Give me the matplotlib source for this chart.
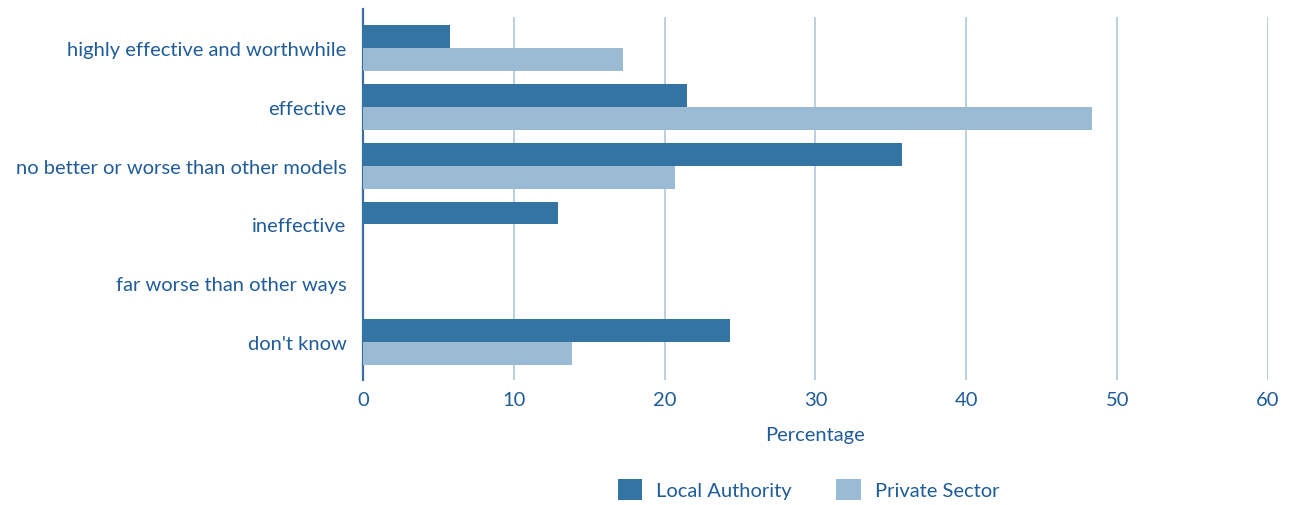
import numpy as np
import matplotlib
matplotlib.use('Agg')
from matplotlib import pyplot as plt

plt.rcParams['font.family'] = ['Lato', 'DejaVu Sans']

categories = [
    'highly effective and worthwhile',
    'effective',
    'no better or worse than other models',
    'ineffective',
    'far worse than other ways',
    "don't know",
]
local_authority = [5.8, 21.45, 35.75, 12.9, 0, 24.3]
private_sector = [17.25, 48.3, 20.7, 0, 0, 13.85]
x_ticks = [0, 10, 20, 30, 40, 50, 60]

dark_blue = '#3474a5'
light_blue = '#9bbad4'
text_blue = '#1f5c99'
grid_col = '#bccfe0'
fs = 14.5

fig = plt.figure(figsize=(12.98, 5.06), dpi=100)
ax = fig.add_axes([363 / 1298, 1 - 381 / 506, (1268 - 363) / 1298, 371 / 506])

y = np.arange(len(categories))
h = 0.39
ax.barh(y - h / 2, local_authority, height=h, color=dark_blue, label='Local Authority', zorder=3)
ax.barh(y + h / 2, private_sector, height=h, color=light_blue, label='Private Sector', zorder=3)

ax.set_ylim(len(categories) - 1 + 0.65, -0.67)
ax.set_xlim(0, 60)

for t in x_ticks[1:]:
    ax.axvline(t, ymin=0, ymax=0.976, color=grid_col, lw=1.4, zorder=1)

ax.set_yticks(y)
ax.set_yticklabels(categories)
ax.set_xticks(x_ticks)
ax.tick_params(axis='both', length=0, labelsize=fs, labelcolor=text_blue)
ax.tick_params(axis='y', pad=12)
ax.tick_params(axis='x', pad=8)

for s in ['top', 'right', 'bottom']:
    ax.spines[s].set_visible(False)
ax.spines['left'].set_color('#3b6e9e')
ax.spines['left'].set_linewidth(1.6)

ax.set_xlabel('Percentage', fontsize=fs, color=text_blue, labelpad=13)

fig.legend(loc='lower center', bbox_to_anchor=(0.623, -0.025), ncol=2, frameon=False,
           fontsize=fs, labelcolor=text_blue, handlelength=1.2, handleheight=1.2,
           handletextpad=0.7, columnspacing=2.2)

plt.savefig('out.png', dpi=100)
